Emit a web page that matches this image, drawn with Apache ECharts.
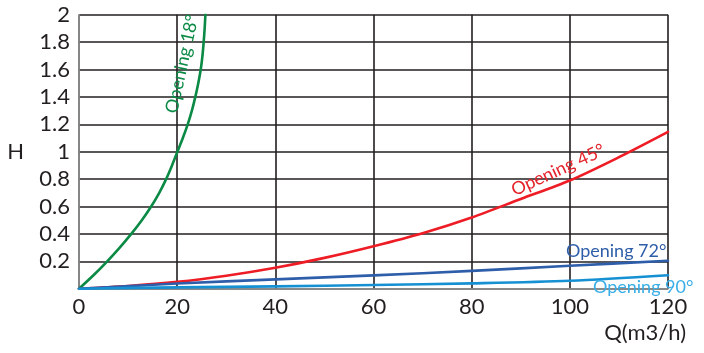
<!DOCTYPE html>
<html><head><meta charset="utf-8">
<script src="https://cdn.jsdelivr.net/npm/echarts@6/dist/echarts.min.js"></script>
<style>html,body{margin:0;padding:0;background:#fff}#c{width:704px;height:353px}</style>
</head><body><div id="c"></div>
<script>
// Data
var xTicks = [0, 20, 40, 60, 80, 100, 120];
var yTicks = [0.2, 0.4, 0.6, 0.8, 1, 1.2, 1.4, 1.6, 1.8, 2];
var open18Q = [0, 3.0, 5.75, 8.3, 10.65, 12.8, 14.7, 16.35, 17.75, 18.95, 20.05, 21.15, 22.15, 23.0, 23.7, 24.3, 24.8, 25.15, 25.4, 25.6, 25.75];
var open18H = [0, 0.1, 0.2, 0.3, 0.4, 0.5, 0.6, 0.7, 0.8, 0.9, 1.0, 1.1, 1.2, 1.3, 1.4, 1.5, 1.6, 1.7, 1.8, 1.9, 2.0];
var open45Q = [0, 10, 20, 30, 40, 50, 60, 70, 80, 90, 100, 110, 120];
var open45H = [0, 0.02, 0.05, 0.095, 0.153, 0.225, 0.31, 0.405, 0.52, 0.655, 0.79, 0.96, 1.145];
var open72Q = [0, 20, 40, 60, 80, 100, 120];
var open72H = [0, 0.038, 0.068, 0.097, 0.13, 0.167, 0.204];
var open90Q = [0, 20, 40, 60, 80, 100, 120];
var open90H = [0, 0.01, 0.017, 0.027, 0.039, 0.058, 0.098];
var labelTexts = ['Opening 18°', 'Opening 45°', 'Opening 72°', 'Opening 90°'];
var labelAnchors = [[21, 1.64], [97.6, 0.866], [99.2, 0.275], [104.7, 0.012]];

function pairs(q, h) { return q.map(function (v, i) { return [v, h[i]]; }); }

var FONT = 'Lato';
var colors = ['#0a8a45', '#ee1c25', '#2e5ea9', '#1590d2'];
var labelColors = ['#0a8a45', '#e4222b', '#2e5ea9', '#3aaee6'];

var chart = echarts.init(document.getElementById('c'));
var lineSeries = [pairs(open18Q, open18H), pairs(open45Q, open45H), pairs(open72Q, open72H), pairs(open90Q, open90H)]
  .map(function (d, i) {
    return { type: 'line', data: d, smooth: 0.3, showSymbol: false, symbol: 'none',
      lineStyle: { color: colors[i], width: 2.6, join: 'round', cap: 'round' }, z: 3, clip: true };
  });

chart.setOption({
  animation: false,
  grid: { left: 79, right: 36, top: 14.7, bottom: 64.3 },
  xAxis: {
    type: 'value', min: 0, max: 120, interval: 20,
    name: 'Q(m3/h)', nameLocation: 'end', nameGap: 18,
    nameTextStyle: { fontFamily: FONT, fontSize: 22, color: '#231f20', align: 'right', verticalAlign: 'top', padding: [33, 0, 0, 0] },
    axisLine: { lineStyle: { color: '#9a9a9a', width: 1.5 } },
    axisTick: { show: false },
    axisLabel: { fontFamily: FONT, fontSize: 22, color: '#231f20', margin: 7,
      formatter: function (v) { return xTicks.indexOf(v) >= 0 ? String(v) : ''; } },
    splitLine: { show: true, lineStyle: { color: '#231f20', width: 1.6 } }
  },
  yAxis: {
    type: 'value', min: 0, max: 2, interval: 0.2,
    name: 'H', nameLocation: 'middle', nameRotate: 0, nameGap: 55,
    nameTextStyle: { fontFamily: FONT, fontSize: 22, color: '#231f20', padding: [6, 0, 0, 0] },
    axisLine: { show: true, lineStyle: { color: '#9a9a9a', width: 1.5 } },
    axisTick: { show: false },
    axisLabel: { fontFamily: FONT, fontSize: 22, color: '#231f20', margin: 9,
      formatter: function (v) {
        for (var i = 0; i < yTicks.length; i++) if (Math.abs(yTicks[i] - v) < 1e-6) return String(yTicks[i]);
        return '';
      } },
    splitLine: { show: true, lineStyle: { color: '#231f20', width: 1.6 } }
  },
  series: lineSeries
});

var rotations = [77.6, 24.5, 0, 0];
var aligns = ['center', 'center', 'left', 'left'];
var graphics = labelTexts.map(function (t, i) {
  var p = chart.convertToPixel({ gridIndex: 0 }, labelAnchors[i]);
  return { type: 'text', x: p[0], y: p[1], rotation: rotations[i] * Math.PI / 180, z: 10,
    style: { text: t, fill: labelColors[i], font: '18px ' + FONT, align: aligns[i], verticalAlign: 'middle' } };
});
chart.setOption({ graphic: graphics });
</script></body></html>
